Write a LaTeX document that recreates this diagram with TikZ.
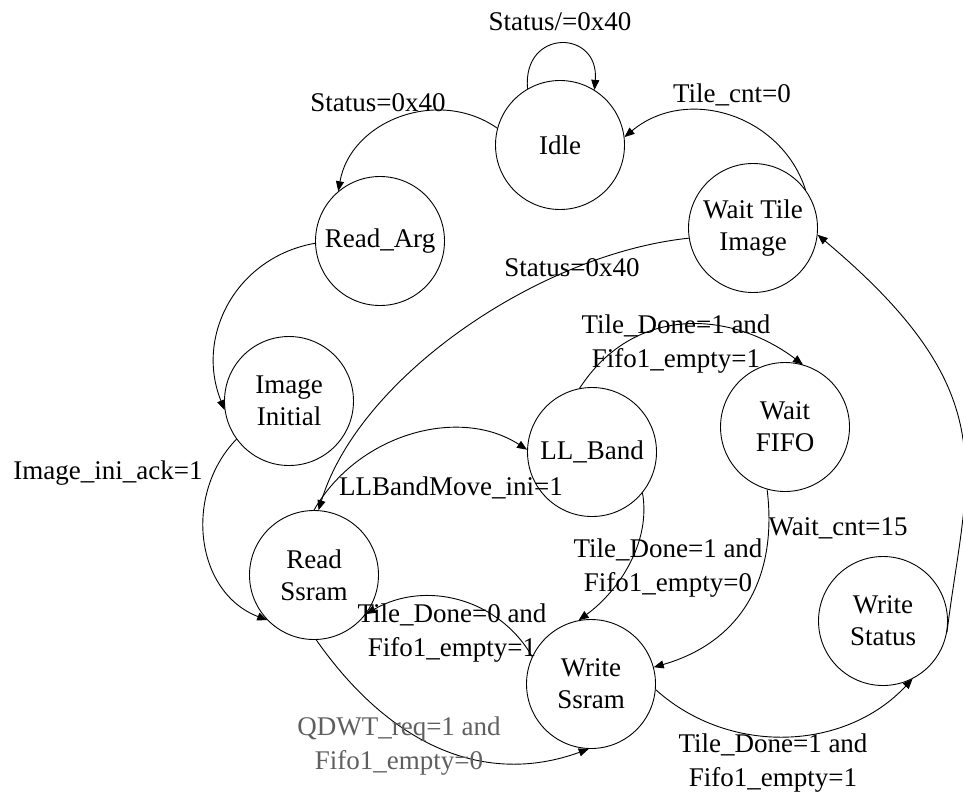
\documentclass[tikz,border=0pt]{standalone}
\usepackage{fontspec}
\setmainfont{Liberation Serif}
\usetikzlibrary{arrows.meta}
\definecolor{qgray}{RGB}{95,95,95}
\begin{document}
\begin{tikzpicture}[x=1pt,y=-1pt,
  line width=0.9pt,
  state/.style={circle, draw, minimum size=129pt, inner sep=0pt, align=center,
    font=\fontsize{27}{32}\selectfont},
  lbl/.style={inner sep=0pt, align=center, font=\fontsize{27}{34}\selectfont},
  arr/.style={-{Triangle[length=10pt,width=8pt]}}]
\useasboundingbox (0,0) rectangle (963,793);

% states
\node[state] (idle)  at (560,145) {Idle};
\node[state] (rarg)  at (380,241) {Read\_Arg};
\node[state] (imgi)  at (289,401) {Image\\Initial};
\node[state] (rssr)  at (314,575) {Read\\Ssram};
\node[state] (llb)   at (592,452) {LL\_Band};
\node[state] (wti)   at (753,228) {Wait Tile\\Image};
\node[state] (wfifo) at (785,427) {Wait\\FIFO};
\node[state] (wssr)  at (591,684) {Write\\Ssram};
\node[state] (wst)   at (883,621) {Write\\Status};

% transitions
\draw[arr] (idle.120) .. controls +(95:61pt) and +(85:61pt) .. (idle.58);
\draw[arr] (idle.165) .. controls +(145:72pt) and +(80:72pt) .. (rarg.130);
\draw[arr] (rarg.182) .. controls +(190:80pt) and +(112:80pt) .. (imgi.188);
\draw[arr] (imgi.216) .. controls +(226:77pt) and +(159:77pt) .. (rssr.224);
\draw[arr] (wti.189) .. controls +(186:150pt) and +(73:140pt) .. (rssr.86);
\draw[arr] (rssr.90) .. controls +(60:89pt) and +(147:80pt) .. (llb.178);
\draw[arr] (llb.101) .. controls +(57:100pt) and +(143:90pt) .. (wfifo.74);
\draw[arr] (llb.-39) .. controls +(280:50pt) and +(36:50pt) .. (wssr.101);
\draw[arr] (wfifo.254) .. controls +(277:90pt) and +(16:90pt) .. (wssr.15);
\draw[arr] (rssr.-88) .. controls +(305:130pt) and +(200:110pt) .. (wssr.-92);
\draw[arr] (wssr.155) .. controls +(120:68pt) and +(30:68pt) .. (rssr.-37);
\draw[arr] (wssr.-5) .. controls +(-42:99pt) and +(227:99pt) .. (wst.-63);
\draw[arr] (wst.-10) .. controls +(83:160pt) and +(-40:250pt) .. (wti.-6);
\draw[arr] (wti.36) .. controls +(108:80pt) and +(40:80pt) .. (idle.7);

% transition conditions
\node[lbl] (c1)  at (560,22)  {Status/=0x40};
\node[lbl] (c2)  at (378,103) {Status=0x40};
\node[lbl] (c3)  at (732,95)  {Tile\_cnt=0};
\node[lbl] (c4)  at (572,268) {Status=0x40};
\node[lbl] (c5)  at (676,344) {Tile\_Done=1 and\\Fifo1\_empty=1};
\node[lbl] (c6)  at (108,473) {Image\_ini\_ack=1};
\node[lbl] (c7)  at (451,488) {LLBandMove\_ini=1};
\node[lbl] (c8)  at (838,528) {Wait\_cnt=15};
\node[lbl] (c9)  at (668,568) {Tile\_Done=1 and\\Fifo1\_empty=0};
\node[lbl] (c10) at (452,633) {Tile\_Done=0 and\\Fifo1\_empty=1};
\node[lbl,text=qgray] (c11) at (399,746) {QDWT\_req=1 and\\Fifo1\_empty=0};
\node[lbl] (c12) at (773,763) {Tile\_Done=1 and\\Fifo1\_empty=1};
\end{tikzpicture}
\end{document}
